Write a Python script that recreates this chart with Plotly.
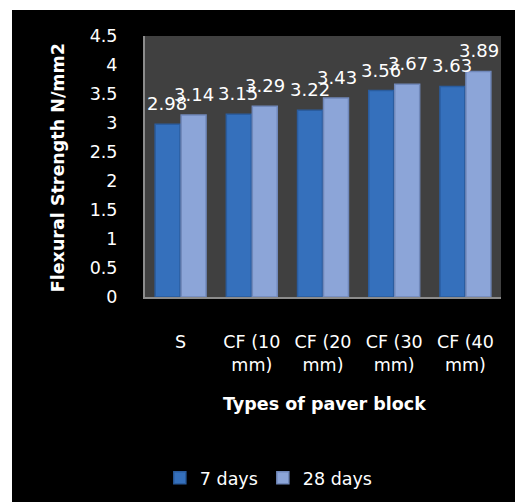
import plotly.graph_objects as go

categories = ["S", "CF (10<br>mm)", "CF (20<br>mm)", "CF (30<br>mm)", "CF (40<br>mm)"]
series_names = ["7 days", "28 days"]
days7 = [2.98, 3.15, 3.22, 3.56, 3.63]
days28 = [3.14, 3.29, 3.43, 3.67, 3.89]
ytick_vals = [0, 0.5, 1, 1.5, 2, 2.5, 3, 3.5, 4, 4.5]
ytick_text = ["0", "0.5", "1", "1.5", "2", "2.5", "3", "3.5", "4", "4.5"]
y_title = "Flexural Strength N/mm2"
x_title = "Types of paver block"

FONT = "DejaVu Sans"
colors = ["#3570BC", "#8CA5D8"]
edge = ["#2A5C9E", "#7088BA"]

fig = go.Figure()
for name, vals, c, e in zip(series_names, [days7, days28], colors, edge):
    fig.add_trace(go.Bar(
        x=categories, y=vals, name=name,
        marker=dict(color=c, line=dict(color=e, width=1.5)),
    ))

annotations = []
for vals, shift in [(days7, -13.5), (days28, 13.5)]:
    for cat, v in zip(categories, vals):
        annotations.append(dict(
            x=cat, y=v, xref="x", yref="y", text=f"{v:.2f}", showarrow=False,
            xanchor="center", yanchor="bottom", xshift=shift, yshift=8,
            font=dict(family=FONT, size=18, color="white"),
        ))

annotations.append(dict(
    x=-0.244, y=0.494, xref="paper", yref="paper", text=f"<b>{y_title}</b>",
    textangle=-90, showarrow=False, xanchor="center", yanchor="middle",
    font=dict(family=FONT, size=17.5, color="white"),
))
annotations.append(dict(
    x=0.503, y=-0.41, xref="paper", yref="paper", text=f"<b>{x_title}</b>",
    showarrow=False, xanchor="center", yanchor="middle",
    font=dict(family=FONT, size=17.5, color="white"),
))

shapes = [
    dict(type="rect", xref="paper", yref="paper", x0=-0.3736, x1=1.2, y0=-1.2, y1=1.0996,
         fillcolor="black", line=dict(width=0), layer="below"),
    dict(type="rect", xref="paper", yref="paper", x0=0, x1=1, y0=0, y1=1,
         fillcolor="#404040", line=dict(width=0), layer="below"),
]

fig.update_layout(
    width=515, height=502,
    margin=dict(l=145, r=14, t=36, b=205),
    paper_bgcolor="white",
    plot_bgcolor="rgba(0,0,0,0)",
    barmode="group", bargap=0.27, bargroupgap=0.04,
    font=dict(family=FONT, size=17.5, color="white"),
    showlegend=True,
    legend=dict(orientation="h", xref="container", yref="container",
                x=0.522, y=0.048, xanchor="center", yanchor="middle",
                font=dict(family=FONT, size=17.5, color="white"), bgcolor="rgba(0,0,0,0)",
                itemwidth=30, traceorder="normal"),
    annotations=annotations,
    shapes=shapes,
)
fig.update_xaxes(showline=True, linecolor="#8c8c8c", linewidth=2, showgrid=False,
                 ticks="", ticklabelstandoff=28, tickfont=dict(family=FONT, size=17.5, color="white"))
fig.update_yaxes(range=[0, 4.5], tickvals=ytick_vals, ticktext=ytick_text, showline=True,
                 linecolor="#8c8c8c", linewidth=2, showgrid=False, zeroline=False, ticks="",
                 ticklabelstandoff=22, tickfont=dict(family=FONT, size=17.5, color="white"))

fig.write_html("out.html", config={"displayModeBar": False},
               post_script="document.body.style.margin='0';document.body.style.overflow='hidden';")
